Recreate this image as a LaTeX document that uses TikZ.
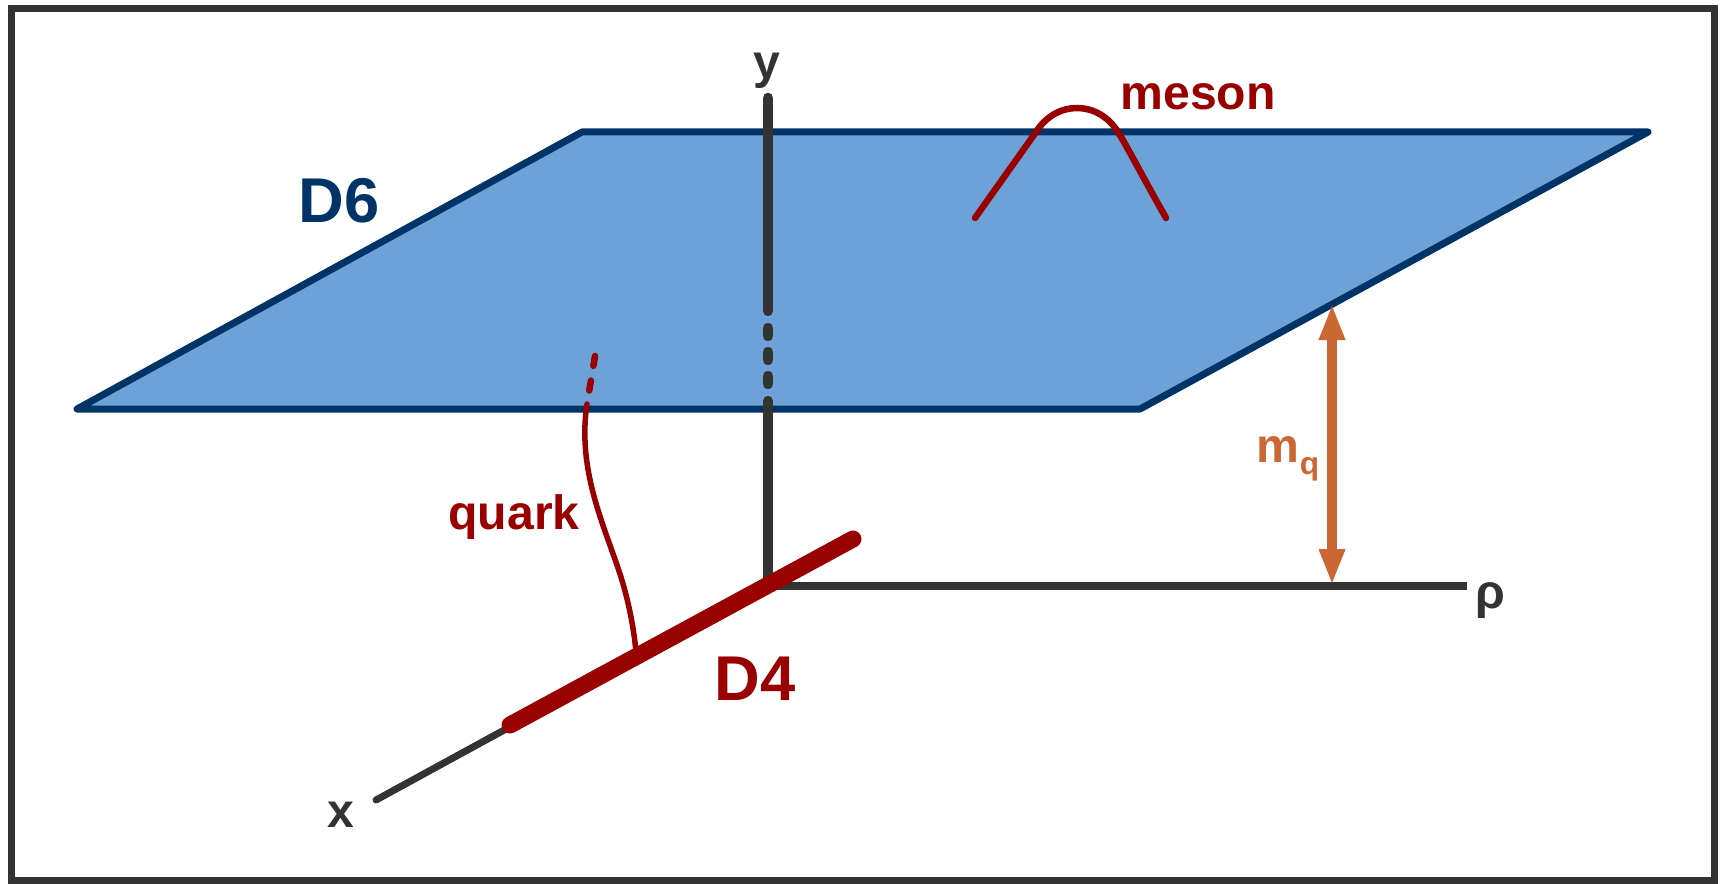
\documentclass[tikz,border=0pt]{standalone}
\usepackage{fontspec}
\setmainfont{Liberation Sans}
\usepackage{xcolor}
\usetikzlibrary{arrows.meta, positioning}

\definecolor{planeblue}{HTML}{6CA2D8}
\definecolor{edgeblue}{HTML}{003366}
\definecolor{darkred}{HTML}{990000}
\definecolor{mqorange}{HTML}{CC6633}
\definecolor{axisgray}{HTML}{333333}

\begin{document}
\begin{tikzpicture}[x=0.1mm, y=-0.1mm, >={Triangle[length=3.6mm, width=2.4mm]},
    axisline/.style={axisgray, line width=1.05mm, line cap=round},
    redline/.style={darkred, line cap=round},
    lbl/.style={font=\bfseries\fontsize{#1}{#1}\selectfont, inner sep=0pt}]
    \useasboundingbox (0,0) rectangle (1723,883);

    % 1. Outer frame
    \draw[axisgray, line width=0.7mm] (11,9) rectangle (1714,880);

    % 2. The D6 plane
    \draw[fill=planeblue, draw=edgeblue, line width=0.7mm, line join=round]
        (582,132) -- (1648,132) -- (1140,409) -- (77,409) -- cycle;

    % 3. Axes meeting at the origin
    \coordinate (O) at (768,586);
    \coordinate (yTop) at (768,98);
    \coordinate (yBreak) at (768,311);
    \coordinate (yResume) at (768,401);
    \coordinate (rhoEnd) at (1467,586);
    \coordinate (xEnd) at (376,800);
    \draw[axisline] (yTop) -- (yBreak);
    \draw[axisline] (yResume) -- (O);
    % short dashes where the axis runs behind the plane
    \foreach \y in {332, 356, 380} \draw[axisline] (768,\y-4) -- (768,\y+4);
    \draw[axisgray, line width=0.85mm] (O) -- (rhoEnd);
    \draw[axisline, line width=0.7mm] (xEnd) -- (O);

    % 4. D4 brane along the x axis
    \coordinate (d4Low) at (510,725);
    \coordinate (d4High) at (853,539);
    \draw[redline, line width=1.7mm] (d4Low) -- (d4High);

    % 5. Quark string, dashed above the plane edge
    \coordinate (quarkTop) at (595,356);
    \coordinate (quarkJoin) at (587,404);
    \coordinate (quarkFoot) at (636,652);
    \draw[redline, line width=0.65mm, dash pattern=on 1mm off 1.5mm] (quarkTop) -- (quarkJoin);
    \draw[redline, line width=0.55mm] (quarkJoin) .. controls (577,470) and (604,525) .. (620,574)
        .. controls (629,602) and (634,630) .. (quarkFoot);

    % 6. Meson string on the plane
    \coordinate (mesonLeft) at (975,218);
    \coordinate (mesonRight) at (1166,218);
    \draw[redline, line width=0.65mm] (mesonLeft) -- (1036,132)
        .. controls (1056,100) and (1098,100) .. (1118,132)
        .. controls (1128,148) and (1140,172) .. (mesonRight);

    % 7. Double arrow for the quark mass
    \coordinate (mqTop) at (1332,304);
    \coordinate (mqFoot) at (1332,585);
    \draw[<->, mqorange, line width=1mm] (mqTop) -- (mqFoot);

    % 8. Labels
    \node[lbl=13.7, axisgray] (labelY) at (767,71) {y};
    \node[lbl=13.7, darkred] (labelMeson) at (1198,97) {meson};
    \node[lbl=18, edgeblue] (labelD6) at (339,201) {D6};
    \node[lbl=13.7, darkred] (labelQuark) at (514,517) {quark};
    \node[lbl=18, darkred] (labelD4) at (755,679) {D4};
    \node[lbl=13.7, axisgray] (labelX) at (341,815) {x};
    \node[lbl=13.7, axisgray] (labelRho) at (1490,601) {ρ};
    \node[lbl=13.7, mqorange] (labelMq) at (1288,459) {m\raisebox{-0.25em}{\fontsize{9}{9}\selectfont q}};
\end{tikzpicture}
\end{document}
